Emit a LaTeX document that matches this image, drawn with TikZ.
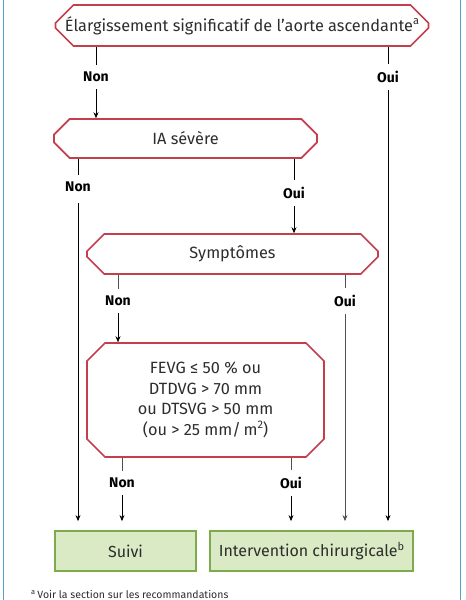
\documentclass[tikz,border=0pt]{standalone}
\usepackage{fontspec}
\setmainfont{Fira Sans}
\usetikzlibrary{shapes.misc,arrows.meta}
\definecolor{redb}{RGB}{196,62,78}
\definecolor{greenf}{RGB}{218,234,196}
\definecolor{greenb}{RGB}{124,170,76}
\definecolor{bluef}{RGB}{80,165,200}
\definecolor{txt}{RGB}{45,45,45}
\definecolor{lineg}{RGB}{80,80,80}
\newcommand{\supx}[1]{\raisebox{0.42em}{\fontsize{11}{11}\selectfont #1}}
\tikzset{
  decision/.style={chamfered rectangle, chamfered rectangle xsep=9pt, chamfered rectangle ysep=9pt, draw=redb, line width=1.6pt, fill=white, text=txt, font=\fontsize{16.3}{20.5}\selectfont, align=center, inner sep=0pt},
  outcome/.style={rectangle, draw=greenb, line width=1.8pt, fill=greenf, text=txt, font=\fontsize{16}{18}\selectfont, inner sep=0pt},
  lbl/.style={font=\bfseries\fontsize{14}{16}\selectfont, text=black, inner xsep=1pt, inner ysep=7pt},
  conn/.style={line width=0.7pt, draw=black},
  conng/.style={line width=0.7pt, draw=lineg},
  arr/.style={-{Stealth[length=6pt,width=5pt]}}
}
\begin{document}
\begin{tikzpicture}[x=1pt,y=-1pt]
\useasboundingbox (0,0) rectangle (466,600);
\fill[white] (0,0) rectangle (466,600);
\draw[bluef, line width=1pt] (3,0) -- (3,600);
\draw[bluef, line width=1pt] (460,0) -- (460,600);

\node[decision, minimum width=373pt, minimum height=41pt] (b1) at (242,25.5) {Élargissement significatif de l'aorte ascendante\supx{a}};
\node[decision, minimum width=263pt, minimum height=39pt] (b2) at (185.5,138.5) {IA sévère};
\node[decision, minimum width=291pt, minimum height=40pt] (b3) at (232.5,254) {Symptômes};
\node[decision, minimum width=237pt, minimum height=114pt] (b4) at (205.5,400) {FEVG ≤ 50 \% ou\\DTDVG > 70 mm\\ou DTSVG > 50 mm\\(ou > 25 mm/\,m\supx{2})};
\node[outcome, minimum width=141pt, minimum height=40pt] (s) at (125.5,551) {Suivi};
\node[outcome, minimum width=203pt, minimum height=40pt] (iv) at (311.5,551) {Intervention chirurgicale\supx{b}};

\node[lbl] (n1) at (96,77) {Non};
\node[lbl] (o1) at (388,77) {Oui};
\node[lbl] (n2) at (78,187) {Non};
\node[lbl] (o2) at (294,193) {Oui};
\node[lbl] (n3) at (118,301) {Non};
\node[lbl] (o3) at (345,301) {Oui};
\node[lbl] (n4) at (122,483) {Non};
\node[lbl] (o4) at (291,483) {Oui};

\draw[conn] (b1.south -| n1) -- (n1.north);
\draw[conn,arr] (n1.south) -- (b2.north -| n1);
\draw[conn] (b1.south -| o1) -- (o1.north);
\draw[conn,arr] (o1.south) -- ([yshift=9pt]iv.north -| o1);

\draw[conn] (b2.south -| n2) -- (n2.north);
\draw[conn,arr] ([yshift=-4pt]n2.south) -- ([yshift=9pt]s.north -| n2);
\draw[conn] (b2.south -| o2) -- (o2.north);
\draw[conn,arr] (o2.south) -- (b3.north -| o2);

\draw[conng] (b3.south -| n3) -- (n3.north);
\draw[conn,arr] (n3.south) -- (b4.north -| n3);
\draw[conng] (b3.south -| o3) -- (o3.north);
\draw[conng,arr] (o3.south) -- ([yshift=9pt]iv.north -| o3);

\draw[conng] (b4.south -| n4) -- (n4.north);
\draw[conn,arr] (n4.south) -- ([yshift=9pt]s.north -| n4);
\draw[conng] (b4.south -| o4) -- (o4.north);
\draw[conn,arr] (o4.south) -- ([yshift=9pt]iv.north -| o4);

\node[anchor=base west, text=txt, font=\fontsize{10.5}{12}\selectfont, inner sep=0pt] (fn) at (31,598.5) {\textsuperscript{a}\,Voir la section sur les recommandations};
\end{tikzpicture}
\end{document}
